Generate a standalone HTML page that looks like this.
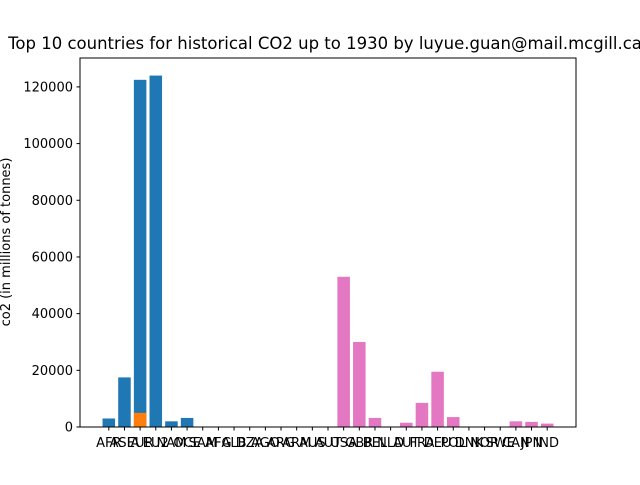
<!DOCTYPE html>
<html><head><meta charset="utf-8"><style>
body{margin:0;background:#fff;width:640px;height:480px;overflow:hidden}
svg{font-family:"DejaVu Sans","Liberation Sans",sans-serif}
</style></head><body>
<svg id="chart" width="640" height="480">
<rect width="640" height="480" fill="#fff"/>
<text x="325" y="49" font-size="16.5" text-anchor="middle">Top 10 countries for historical CO2 up to 1930 by luyue.guan@mail.mcgill.ca</text>
<text transform="translate(10,242) rotate(-90)" font-size="13" text-anchor="middle">co2 (in millions of tonnes)</text>
<g id="bars"></g><g id="axes"></g>
</svg>
<script>
const categories=["AFR","ASIA","EUR","EU28","NAM","OCE","SAM","AFG","ALB","DZA","AGO","ARG","ARM","AUS","AUT","USA","GBR","BEL","NLD","AUT2","FRA","DEU","POL","DNK","NOR","SWE","CAN","JPN","IND"];
const blueValues=[3000,17500,122500,124000,2000,3200];
const orangeCats=["EUR"];
const orangeValues=[5000];
const pinkCats=["USA","GBR","BEL","NLD","AUT2","FRA","DEU","POL","DNK","NOR","SWE","CAN","JPN","IND"];
const pinkValues=[53000,30000,3200,0,1500,8500,19500,3500,0,0,0,2000,1800,1200];
const yTicks=[0,20000,40000,60000,80000,100000,120000];
const X0=80,X1=576,Y0=427,Y1=58;
const n=categories.length,span=(n-1)+0.8,lo=-0.4-0.05*span,hi=n-1+0.4+0.05*span;
const xs=i=>X0+(i-lo)/(hi-lo)*(X1-X0);
const ys=v=>Y0-(v/130200)*(Y0-Y1);
const ns="http://www.w3.org/2000/svg";
const bars=document.getElementById('bars'),axes=document.getElementById('axes');
function mk(p,tag,a){const e=document.createElementNS(ns,tag);for(const k in a)e.setAttribute(k,a[k]);p.appendChild(e);return e;}
const bw=0.8*(X1-X0)/(hi-lo);
function bar(i,v,c,name){const e=mk(bars,'rect',{x:xs(i)-bw/2,y:ys(v),width:bw,height:Y0-ys(v),fill:c});

}
blueValues.forEach((v,i)=>bar(i,v,'#1f77b4','bar-'+categories[i].toLowerCase()));
orangeValues.forEach((v,j)=>bar(categories.indexOf(orangeCats[j]),v,'#ff7f0e','bar-orange-'+orangeCats[j].toLowerCase()));
pinkValues.forEach((v,j)=>bar(categories.indexOf(pinkCats[j]),v,'#e377c2','bar-'+pinkCats[j].toLowerCase()));
const fr=mk(axes,'rect',{x:X0,y:Y1,width:X1-X0,height:Y0-Y1,fill:'none',stroke:'#000','stroke-width':1});


yTicks.forEach(t=>{const y=ys(t);mk(axes,'line',{x1:X0-3.5,x2:X0,y1:y,y2:y,stroke:'#000'});
const tx=mk(axes,'text',{x:X0-7,y:y+4.5,'font-size':13,'text-anchor':'end'});tx.textContent=t;

});
categories.forEach((c,i)=>{const x=xs(i);mk(axes,'line',{x1:x,x2:x,y1:Y0,y2:Y0+3.5,stroke:'#000'});
const tx=mk(axes,'text',{x:x,y:Y0+20,'font-size':13,'text-anchor':'middle'});tx.textContent=c.replace(/\d$/,'');

});
</script>
</body></html>
